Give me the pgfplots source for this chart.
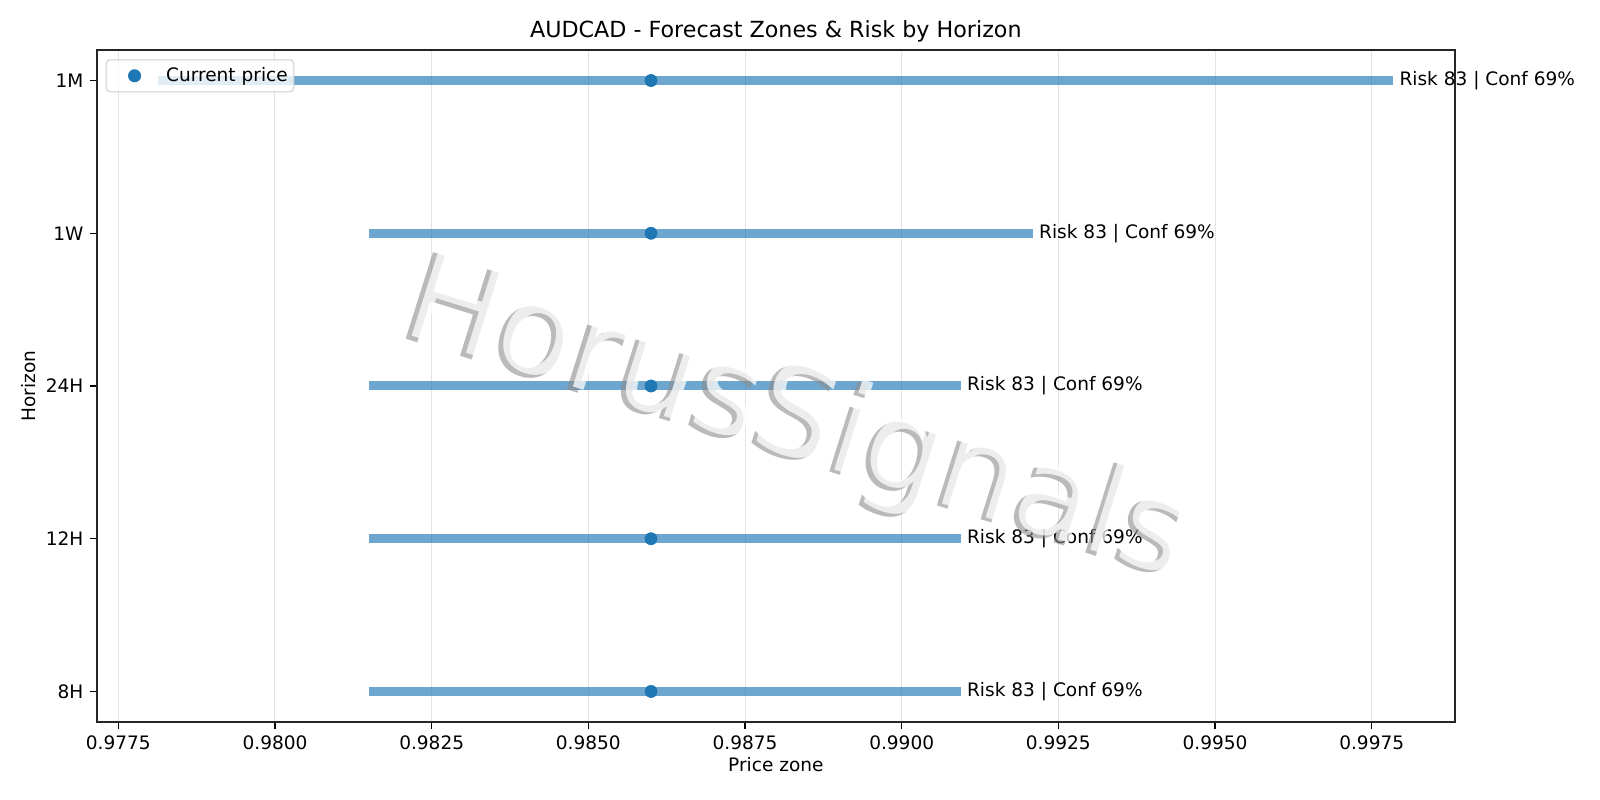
\documentclass[border=0pt]{standalone}
\usepackage{fontspec}
\setmainfont{DejaVu Sans}
\usepackage{pgfplots}
\pgfplotsset{compat=1.18}
\definecolor{tabblue}{HTML}{1F77B4}

\begin{document}
\fontsize{9.3}{11}\selectfont
\begin{tikzpicture}
\path[use as bounding box] (-48.35bp,-39bp) rectangle (751.65bp,361bp);
\begin{axis}[
    at={(0,0)}, anchor=south west,
    scale only axis, width=679.15bp, height=336bp,
    clip=false,
    xmin=0.977155, xmax=0.998829,
    ymin=-0.2, ymax=4.2,
    ytick={0,1,2,3,4},
    yticklabels={8H,12H,24H,1W,1M},
    xtick={0.9775,0.98,0.9825,0.985,0.9875,0.99,0.9925,0.995,0.9975},
    scaled x ticks=false,
    xticklabel style={/pgf/number format/.cd, fixed, fixed zerofill, precision=4},
    /pgf/number format/assume math mode=true,
    xmajorgrids,
    grid style={line width=0.5bp, color=black!11},
    tick align=outside,
    major tick length=3.35bp,
    tick style={line width=0.7bp, black},
    xtick pos=bottom, ytick pos=left,
    axis line style={line width=0.85bp, black!85},
    xlabel={Price zone},
    ylabel={Horizon},
    xlabel style={at={(axis description cs:0.5,-0.064)}, anchor=center},
    ylabel style={at={(axis description cs:-0.0503,0.5)}, anchor=center},
    title={AUDCAD - Forecast Zones \& Risk by Horizon},
    every axis title shift=0pt,
    title style={at={(axis description cs:0.5,1.0274)}, anchor=center, font=\fontsize{11.15}{13}\selectfont},
    legend style={at={(axis description cs:0.0066,0.9862)}, anchor=north west,
        draw=black!20, rounded corners=2bp, fill=white, fill opacity=0.8,
        draw opacity=1, text opacity=1, inner xsep=1bp, inner ysep=1.8bp,
        line width=0.5bp, font=\fontsize{9.3}{11}\selectfont},
    legend cell align=left,
    legend image code/.code={%
        \path[draw=none] (0bp,0bp) -- (27bp,0bp);
        \draw[#1, fill opacity=1] plot coordinates {(13.2bp,0bp)};},
]
% zone bars
\addplot[draw=tabblue, opacity=0.65, line width=4.5bp, forget plot]
    coordinates {(0.98150,0) (0.99094,0)} node[pos=1, right, opacity=1, inner sep=1bp] {Risk 83 | Conf 69\%};
\addplot[draw=tabblue, opacity=0.65, line width=4.5bp, forget plot]
    coordinates {(0.98150,1) (0.99094,1)} node[pos=1, right, opacity=1, inner sep=1bp] {Risk 83 | Conf 69\%};
\addplot[draw=tabblue, opacity=0.65, line width=4.5bp, forget plot]
    coordinates {(0.98150,2) (0.99094,2)} node[pos=1, right, opacity=1, inner sep=1bp] {Risk 83 | Conf 69\%};
\addplot[draw=tabblue, opacity=0.65, line width=4.5bp, forget plot]
    coordinates {(0.98150,3) (0.99209,3)} node[pos=1, right, opacity=1, inner sep=1bp] {Risk 83 | Conf 69\%};
\addplot[draw=tabblue, opacity=0.65, line width=4.5bp, forget plot]
    coordinates {(0.97814,4) (0.99784,4)} node[pos=1, right, opacity=1, inner sep=1bp] {Risk 83 | Conf 69\%};
% watermark
\addplot[draw=none, forget plot] coordinates {(0.98834,1.765)}
    node[pos=0, rotate=-17.5, xshift=-2bp, yshift=-2bp, text=black!45, opacity=0.6,
         font=\fontsize{62.5}{62.5}\selectfont] {HorusSignals};
\addplot[draw=none, forget plot] coordinates {(0.98834,1.765)}
    node[pos=0, rotate=-17.5, text=white, opacity=0.75,
         font=\fontsize{62.5}{62.5}\selectfont] {HorusSignals};
% current price
\addplot[only marks, mark=*, mark size=3bp, color=tabblue]
    coordinates {(0.98600,0) (0.98600,1) (0.98600,2) (0.98600,3) (0.98600,4)};
\addlegendentry{Current price}
\end{axis}
\end{tikzpicture}
\end{document}
